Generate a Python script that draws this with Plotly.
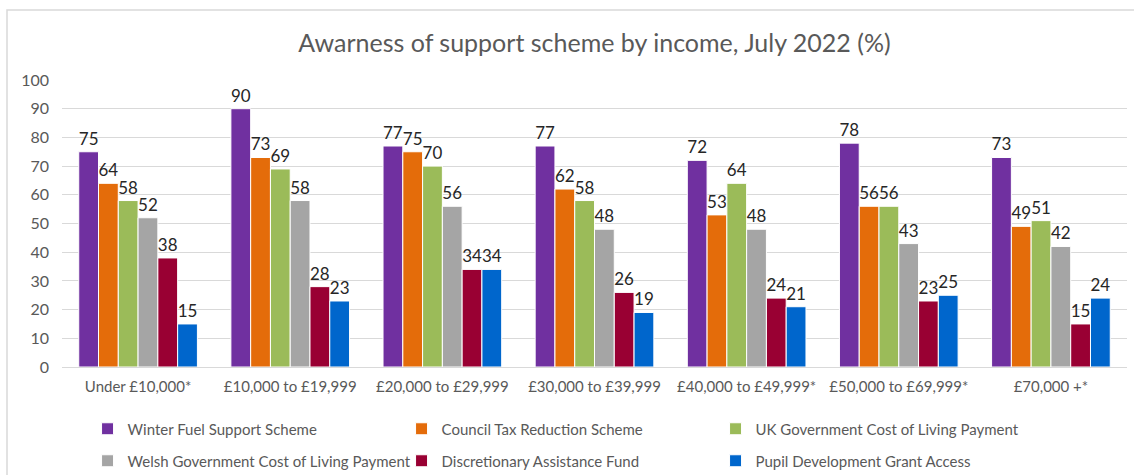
import plotly.graph_objects as go

categories = ["Under £10,000*", "£10,000 to £19,999", "£20,000 to £29,999",
              "£30,000 to £39,999", "£40,000 to £49,999*", "£50,000 to £69,999*",
              "£70,000 +*"]

winter_fuel = [75, 90, 77, 77, 72, 78, 73]
council_tax = [64, 73, 75, 62, 53, 56, 49]
uk_gov_col = [58, 69, 70, 58, 64, 56, 51]
welsh_gov_col = [52, 58, 56, 48, 48, 43, 42]
discretionary = [38, 28, 34, 26, 24, 23, 15]
pupil_grant = [15, 23, 34, 19, 21, 25, 24]

series = [
    ("Winter Fuel Support Scheme", winter_fuel, "#7030A0", "legend"),
    ("Council Tax Reduction Scheme", council_tax, "#E46C0A", "legend"),
    ("UK Government Cost of Living Payment", uk_gov_col, "#9BBB59", "legend"),
    ("Welsh Government Cost of Living Payment", welsh_gov_col, "#A5A5A5", "legend2"),
    ("Discretionary Assistance Fund", discretionary, "#990033", "legend2"),
    ("Pupil Development Grant Access", pupil_grant, "#0066CC", "legend2"),
]

FONT = "Lato, 'Open Sans', sans-serif"
GREY = "#595959"

fig = go.Figure()
for name, vals, color, leg in series:
    fig.add_trace(go.Bar(
        x=categories, y=vals, name=name, legend=leg,
        marker=dict(color=color, line=dict(color="white", width=1)),
        text=vals, textposition="outside", cliponaxis=False,
        textfont=dict(family=FONT, size=17, color="#262626"),
    ))

W, H = 1134, 475
L, R, T, B = 62, 7, 80, 108
PH = H - T - B

legend_common = dict(
    orientation="h", xanchor="left", yanchor="middle",
    font=dict(family=FONT, size=15, color=GREY),
    entrywidth=269, entrywidthmode="pixels", itemwidth=30,
    bgcolor="rgba(0,0,0,0)", itemclick=False, traceorder="normal",
)

fig.update_layout(
    width=W, height=H,
    margin=dict(l=L, r=R, t=T, b=B, pad=0, autoexpand=False),
    paper_bgcolor="white", plot_bgcolor="white",
    title=dict(text="Awarness of support scheme by income, July 2022 (%)",
               x=0.5, xref="paper", y=1 - 43 / H, yanchor="middle",
               font=dict(family=FONT, size=25, color=GREY)),
    barmode="group", bargap=0.22, bargroupgap=0.0,
    legend=dict(x=0.024, y=(367 - 429) / PH, **legend_common),
    legend2=dict(x=0.024, y=(367 - 461) / PH, **legend_common),
    xaxis=dict(showgrid=False, showline=True, linecolor="#D9D9D9", linewidth=1,
               ticks="", ticklabelstandoff=6,
               tickfont=dict(family=FONT, size=15, color=GREY)),
    yaxis=dict(range=[0, 100], dtick=10, showgrid=True, gridcolor="#D9D9D9",
               gridwidth=1, zeroline=False, showline=False, ticks="",
               ticklabelstandoff=12,
               tickfont=dict(family=FONT, size=16, color=GREY)),
    shapes=[dict(type="rect", xref="paper", yref="paper",
                 x0=(7 - L) / (W - L - R), x1=(1140 - L) / (W - L - R),
                 y0=(367 - 490) / PH, y1=(367 - 10) / PH,
                 line=dict(color="#D9D9D9", width=1.5), layer="below")],
)

fig.write_html("out.html")
